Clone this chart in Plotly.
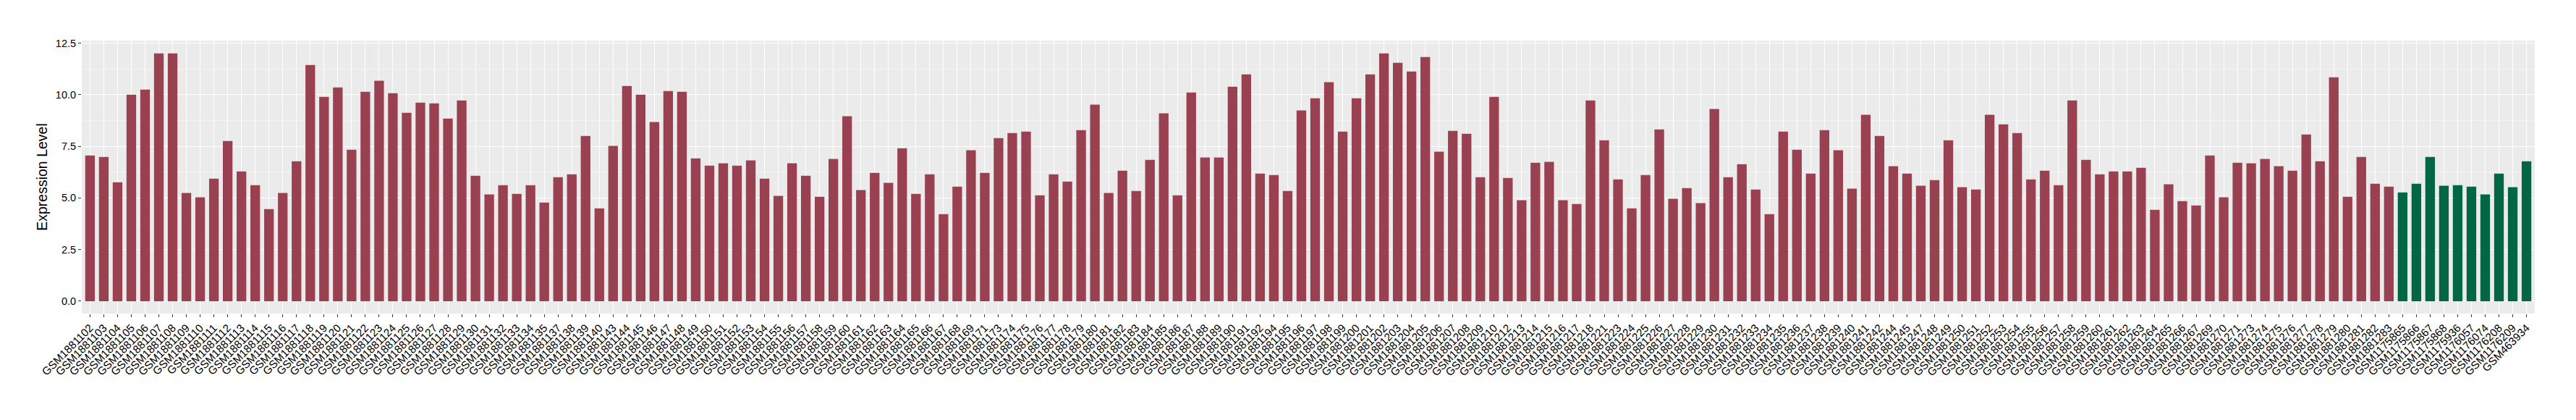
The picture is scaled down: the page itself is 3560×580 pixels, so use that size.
import plotly.graph_objects as go

red_samples = [
    "GSM1881102", "GSM1881103", "GSM1881104", "GSM1881105", "GSM1881106", "GSM1881107", "GSM1881108", "GSM1881109",
    "GSM1881110", "GSM1881111", "GSM1881112", "GSM1881113", "GSM1881114", "GSM1881115", "GSM1881116", "GSM1881117",
    "GSM1881118", "GSM1881119", "GSM1881120", "GSM1881121", "GSM1881122", "GSM1881123", "GSM1881124", "GSM1881125",
    "GSM1881126", "GSM1881127", "GSM1881128", "GSM1881129", "GSM1881130", "GSM1881131", "GSM1881132", "GSM1881133",
    "GSM1881134", "GSM1881135", "GSM1881137", "GSM1881138", "GSM1881139", "GSM1881140", "GSM1881143", "GSM1881144",
    "GSM1881145", "GSM1881146", "GSM1881147", "GSM1881148", "GSM1881149", "GSM1881150", "GSM1881151", "GSM1881152",
    "GSM1881153", "GSM1881154", "GSM1881155", "GSM1881156", "GSM1881157", "GSM1881158", "GSM1881159", "GSM1881160",
    "GSM1881161", "GSM1881162", "GSM1881163", "GSM1881164", "GSM1881165", "GSM1881166", "GSM1881167", "GSM1881168",
    "GSM1881169", "GSM1881171", "GSM1881173", "GSM1881174", "GSM1881175", "GSM1881176", "GSM1881177", "GSM1881178",
    "GSM1881179", "GSM1881180", "GSM1881181", "GSM1881182", "GSM1881183", "GSM1881184", "GSM1881185", "GSM1881186",
    "GSM1881187", "GSM1881188", "GSM1881189", "GSM1881190", "GSM1881191", "GSM1881192", "GSM1881194", "GSM1881195",
    "GSM1881196", "GSM1881197", "GSM1881198", "GSM1881199", "GSM1881200", "GSM1881201", "GSM1881202", "GSM1881203",
    "GSM1881204", "GSM1881205", "GSM1881206", "GSM1881207", "GSM1881208", "GSM1881209", "GSM1881210", "GSM1881212",
    "GSM1881213", "GSM1881214", "GSM1881215", "GSM1881216", "GSM1881217", "GSM1881218", "GSM1881221", "GSM1881223",
    "GSM1881224", "GSM1881225", "GSM1881226", "GSM1881227", "GSM1881228", "GSM1881229", "GSM1881230", "GSM1881231",
    "GSM1881232", "GSM1881233", "GSM1881234", "GSM1881235", "GSM1881236", "GSM1881237", "GSM1881238", "GSM1881239",
    "GSM1881240", "GSM1881241", "GSM1881242", "GSM1881244", "GSM1881245", "GSM1881247", "GSM1881248", "GSM1881249",
    "GSM1881250", "GSM1881251", "GSM1881252", "GSM1881253", "GSM1881254", "GSM1881255", "GSM1881256", "GSM1881257",
    "GSM1881258", "GSM1881259", "GSM1881260", "GSM1881261", "GSM1881262", "GSM1881263", "GSM1881264", "GSM1881265",
    "GSM1881266", "GSM1881267", "GSM1881269", "GSM1881270", "GSM1881271", "GSM1881273", "GSM1881274", "GSM1881275",
    "GSM1881276", "GSM1881277", "GSM1881278", "GSM1881279", "GSM1881280", "GSM1881281", "GSM1881282", "GSM1881283",
]

red_values = [
    7.06, 6.99, 5.76, 10.01, 10.25, 12.01, 12.01, 5.24, 5.03, 5.94,
    7.76, 6.29, 5.62, 4.46, 5.24, 6.78, 11.45, 9.90, 10.36, 7.34,
    10.15, 10.68, 10.08, 9.13, 9.62, 9.59, 8.85, 9.73, 6.08, 5.17,
    5.62, 5.20, 5.62, 4.78, 6.01, 6.15, 8.01, 4.50, 7.52, 10.43,
    10.01, 8.68, 10.18, 10.15, 6.92, 6.57, 6.68, 6.57, 6.82, 5.94,
    5.10, 6.68, 6.08, 5.06, 6.89, 8.96, 5.38, 6.22, 5.73, 7.41,
    5.20, 6.15, 4.22, 5.55, 7.31, 6.22, 7.90, 8.15, 8.22, 5.13,
    6.15, 5.80, 8.29, 9.52, 5.24, 6.32, 5.34, 6.85, 9.10, 5.13,
    10.11, 6.96, 6.96, 10.39, 10.99, 6.18, 6.11, 5.34, 9.24, 9.83,
    10.61, 8.22, 9.83, 10.99, 12.01, 11.55, 11.13, 11.83, 7.24, 8.25,
    8.11, 6.01, 9.90, 5.97, 4.89, 6.71, 6.75, 4.89, 4.71, 9.73,
    7.80, 5.90, 4.50, 6.11, 8.32, 4.96, 5.48, 4.75, 9.31, 6.01,
    6.64, 5.41, 4.22, 8.22, 7.34, 6.18, 8.29, 7.31, 5.45, 9.03,
    8.01, 6.54, 6.18, 5.59, 5.87, 7.80, 5.52, 5.41, 9.03, 8.57,
    8.15, 5.90, 6.32, 5.62, 9.73, 6.85, 6.15, 6.29, 6.29, 6.46,
    4.43, 5.66, 4.85, 4.64, 7.06, 5.03, 6.71, 6.68, 6.89, 6.54,
    6.32, 8.08, 6.78, 10.85, 5.06, 6.99, 5.69, 5.55,
]

green_samples = [
    "GSM1175865", "GSM1175866", "GSM1175867", "GSM1175868", "GSM1175936",
    "GSM1176057", "GSM1176074", "GSM1176208", "GSM1176209", "GSM463934",
]
green_values = [5.27, 5.69, 6.99, 5.59, 5.62, 5.55, 5.17, 6.18, 5.52, 6.78]

y_ticks = [0, 2.5, 5, 7.5, 10, 12.5]
y_ticktext = ["0.0", "2.5", "5.0", "7.5", "10.0", "12.5"]

RED = "#994151"
GREEN = "#006644"

all_samples = red_samples + green_samples

fig = go.Figure()
fig.add_trace(go.Bar(x=red_samples, y=red_values, marker=dict(color=RED, line=dict(width=0)),
                     width=0.7, showlegend=False))
fig.add_trace(go.Bar(x=green_samples, y=green_values, marker=dict(color=GREEN, line=dict(width=0)),
                     width=0.7, showlegend=False))

fig.update_layout(
    width=3560, height=580,
    margin=dict(l=113, r=57, t=56, b=147, pad=0),
    paper_bgcolor="white",
    plot_bgcolor="#EBEBEB",
    barmode="overlay",
    font=dict(family="Liberation Sans, Arial, sans-serif", color="black"),
    xaxis=dict(
        type="category",
        categoryorder="array",
        categoryarray=all_samples,
        range=[-0.6, len(all_samples) - 0.4],
        tickangle=-45,
        tickfont=dict(size=15.2, color="black"),
        showgrid=True, gridcolor="white", gridwidth=1.1,
        ticks="outside", ticklen=4, tickwidth=1, tickcolor="#333333",
        showline=False, zeroline=False,
    ),
    yaxis=dict(
        range=[-0.6, 12.63],
        tickvals=y_ticks, ticktext=y_ticktext,
        tickfont=dict(size=14.5, color="black"),
        showgrid=True, gridcolor="white", gridwidth=1.1,
        minor=dict(dtick=1.25, tick0=0, showgrid=True, gridcolor="#F4F4F4", gridwidth=0.6, ticks=""),
        ticks="outside", ticklen=4, tickwidth=1, tickcolor="#333333",
        zeroline=False, showline=False,
        title=dict(text="Expression Level", font=dict(size=19.5, color="black"), standoff=6),
    ),
)

fig.write_html(
    "out.html",
    config={"displayModeBar": False},
    post_script="document.body.style.margin='0';document.body.style.padding='0';document.body.style.overflow='hidden';",
)
